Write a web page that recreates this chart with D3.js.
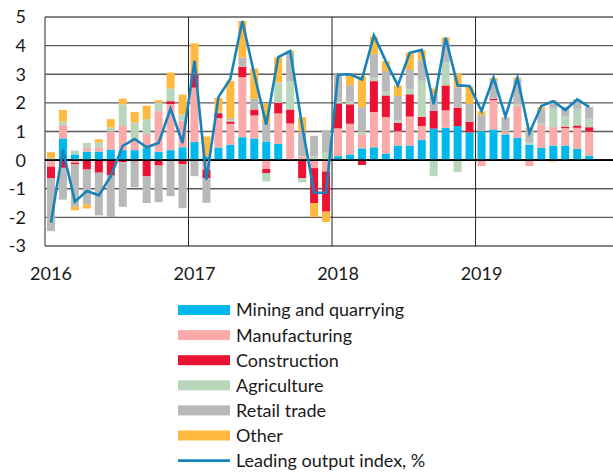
<!DOCTYPE html>
<html>
<head>
<meta charset="utf-8">
<script src="https://cdn.jsdelivr.net/npm/d3@7"></script>
<style>
  html, body { margin: 0; padding: 0; background: #fff; }
  svg { display: block; }
  text { font-family: Lato, "Open Sans", sans-serif; fill: #1a1a1a; }
</style>
</head>
<body>
<svg id="chart" width="613" height="475"></svg>
<script>
// ---- Data (Jan 2016 .. Oct 2019, monthly) ----
const months = d3.range(46).map(i => new Date(2016, i, 1));
const yearLabels = ["2016", "2017", "2018", "2019"];
const yTicks = [5, 4, 3, 2, 1, 0, -1, -2, -3];
const seriesNames = ["Mining and quarrying", "Manufacturing", "Construction", "Agriculture", "Retail trade", "Other"];
const lineName = "Leading output index, %";

const mining = [0, 0.76, 0.2, 0.3, 0.3, 0.37, 0.35, 0.35, 0.42, 0.29, 0.35, 0.45,
  0.64, 0.13, 0.44, 0.54, 0.8, 0.76, 0.65, 0.57, 0, 0, 0, 0,
  0.14, 0.2, 0.41, 0.45, 0.23, 0.51, 0.51, 0.7, 1.1, 1.13, 1.19, 0.97,
  1.01, 1.07, 0.9, 0.78, 0.54, 0.43, 0.51, 0.51, 0.4, 0.16];
const manufacturing = [-0.23, 0.47, -0.09, 0.14, 0.15, 0.63, 0.84, 0.35, 0.49, 1.42, 1.61, 0.93,
  1.89, -0.33, 1.03, 0.73, 2.1, 0.8, -0.31, 1.06, 1.28, 0.13, -0.28, -0.4,
  0.97, 1.07, 0.49, 1.23, 1.27, 0.5, 1.01, 0.49, 0, 0.61, 0, 0,
  -0.21, 1.03, 0.1, 1.13, -0.21, 0.8, 0.65, 0.61, 0.73, 0.84];
const construction = [-0.41, -0.27, -0.06, -0.33, -0.44, -0.54, -0.07, -0.05, -0.57, -0.19, 0.1, -0.15,
  0.47, -0.3, 0.17, 0.08, 0.36, 0.21, -0.14, 0.37, 0.49, -0.63, -1.22, -1.4,
  0.87, 0.68, -0.17, 1.08, 0.76, 0.3, 0.78, 0.33, 0.62, 0.87, 0.64, 0.37,
  0, 0.04, 0, 0, 0, 0, 0, 0.05, 0.08, 0.15];
const agriculture = [0.08, 0.12, 0.14, 0.16, 0.16, 0.14, 0.76, 0.61, 0.52, 0.29, 0.44, 0.21,
  0, 0, 0.05, 0.05, 0, 0, -0.29, 0.72, 0.99, -0.15, 0.13, 0.26,
  0.08, 0.09, 0.09, 0.12, 0.13, 0.08, 0.17, 1.25, -0.56, 0.82, -0.41, 0,
  0, 0, 0.05, 0.06, 0.07, 0.07, 0.64, 0.35, 0.58, 0.3];
const retail = [-1.84, -1.11, -1.48, -1.22, -1.49, -1.45, -1.56, -0.9, -0.93, -1.28, -1.26, -1.53,
  -0.56, -0.86, 0, 0.06, 0.32, 0.37, 0.65, 0, 0.99, 0.87, 0.72, 0.78,
  0.93, 0.58, 0.86, 0.82, 0.72, 0.85, 0.68, 0.72, 0.58, 0.68, 0.72, 0.63,
  0.56, 0.65, 0.43, 0.85, 0.47, 0.47, 0.28, 0.34, 0.27, 0.41];
const other = [0.2, 0.4, -0.12, -0.14, 0.12, 0.29, 0.2, 0.37, 0.47, 0.09, 0.56, 0.7,
  1.08, 0.7, 0.48, 1.31, 1.28, 1.06, 0.68, 0.87, 0.08, 0.5, -0.49, -0.36,
  0.03, 0.38, 1.08, 0.61, 0.35, 0.37, 0.61, 0.35, 0.2, 0.17, 0.47, 0.59,
  0.14, 0.08, 0.03, 0.06, 0.06, 0.08, -0.05, 0, 0.06, 0];
const leadingIndex = [-2.18, 0.36, -1.45, -1.08, -1.23, -0.56, 0.5, 0.74, 0.45, 0.6, 1.8, 0.6,
  3.47, -0.68, 2.2, 2.84, 4.86, 3.0, 1.24, 3.6, 3.81, 1.2, -1.14, -1.14,
  2.98, 3.0, 2.82, 4.36, 3.45, 2.61, 3.75, 3.85, 1.95, 4.28, 2.61, 2.59,
  1.71, 2.88, 1.52, 2.88, 0.95, 1.89, 2.06, 1.75, 2.12, 1.86];

const colors = ["#00b9ec", "#fbaaaa", "#ec1234", "#b8d6ba", "#b9b9b9", "#ffb93f"];
const lineColor = "#1683bb";

// ---- Build table ----
const seriesArrays = [mining, manufacturing, construction, agriculture, retail, other];
const table = months.map((m, i) => {
  const row = { i };
  seriesNames.forEach((k, j) => row[k] = seriesArrays[j][i]);
  return row;
});

const svg = d3.select("#chart");
const allMonths = d3.range(48);
const x = d3.scaleBand().domain(allMonths).range([45, 45 + 48 * 11.96]).paddingInner(0.33).paddingOuter(0.165);
const y = d3.scaleLinear().domain([-3, 5]).range([246, 17]);
const xRight = 613;
const fs = 18;

// gridlines
svg.append("g").selectAll("line").data(yTicks).join("line")
  .attr("x1", 45).attr("x2", xRight)
  .attr("y1", d => y(d)).attr("y2", d => y(d))
  .attr("stroke", d => d === 0 ? "#000" : "#5a5a5a")
  .attr("stroke-width", d => d === 0 ? 1.6 : 1.3);

// year separators
const yearStarts = [12, 24, 36];
svg.append("g").selectAll("line").data(yearStarts).join("line")
  .attr("x1", d => x(d) - x.step() * x.paddingInner() / 2)
  .attr("x2", d => x(d) - x.step() * x.paddingInner() / 2)
  .attr("y1", y(5)).attr("y2", y(-3))
  .attr("stroke", "#222").attr("stroke-width", 1);

// left axis line
svg.append("line").attr("x1", 45).attr("x2", 45).attr("y1", y(5)).attr("y2", y(-3))
  .attr("stroke", "#5a5a5a").attr("stroke-width", 1.3);

// y labels
svg.append("g").selectAll("text").data(yTicks).join("text")
  .attr("x", 26).attr("y", d => y(d)).attr("dy", "0.36em")
  .attr("text-anchor", "end").attr("font-size", fs)
  .text(d => d);

// x labels
svg.append("g").selectAll("text").data(yearLabels).join("text")
  .attr("x", (d, i) => x(i * 12) + x.bandwidth() / 2)
  .attr("y", 280).attr("text-anchor", "middle").attr("font-size", fs)
  .text(d => d);

// stacked bars
const stack = d3.stack().keys(seriesNames).offset(d3.stackOffsetDiverging);
const stacked = stack(table);
svg.append("g").selectAll("g").data(stacked).join("g")
  .attr("fill", (d, j) => colors[j])
  .selectAll("rect").data(d => d).join("rect")
  .attr("x", d => x(d.data.i))
  .attr("width", x.bandwidth())
  .attr("y", d => y(Math.max(d[0], d[1])))
  .attr("height", d => Math.abs(y(d[0]) - y(d[1])));

// zero line on top
svg.append("line").attr("x1", 45).attr("x2", xRight).attr("y1", y(0)).attr("y2", y(0))
  .attr("stroke", "#000").attr("stroke-width", 1.6);

// line
const line = d3.line().x((d, i) => x(i) + x.bandwidth() / 2).y(d => y(d));
svg.append("path").datum(leadingIndex)
  .attr("d", line).attr("fill", "none")
  .attr("stroke", lineColor).attr("stroke-width", 2.6).attr("stroke-linejoin", "miter");

// legend
const legend = svg.append("g");
const ly0 = 310, lstep = 25.1;
seriesNames.forEach((name, j) => {
  const g = legend.append("g").attr("transform", `translate(0,${ly0 + j * lstep})`);
  g.append("rect").attr("x", 178).attr("y", -5).attr("width", 52).attr("height", 10).attr("fill", colors[j]);
  g.append("text").attr("x", 236).attr("y", 0).attr("dy", "0.36em").attr("font-size", fs).text(name);
});
const lg = legend.append("g").attr("transform", `translate(0,${ly0 + 6 * lstep})`);
lg.append("line").attr("x1", 178).attr("x2", 230).attr("y1", 0).attr("y2", 0)
  .attr("stroke", lineColor).attr("stroke-width", 2.6);
lg.append("text").attr("x", 236).attr("y", 0).attr("dy", "0.36em").attr("font-size", fs).text(lineName);
</script>
</body>
</html>
